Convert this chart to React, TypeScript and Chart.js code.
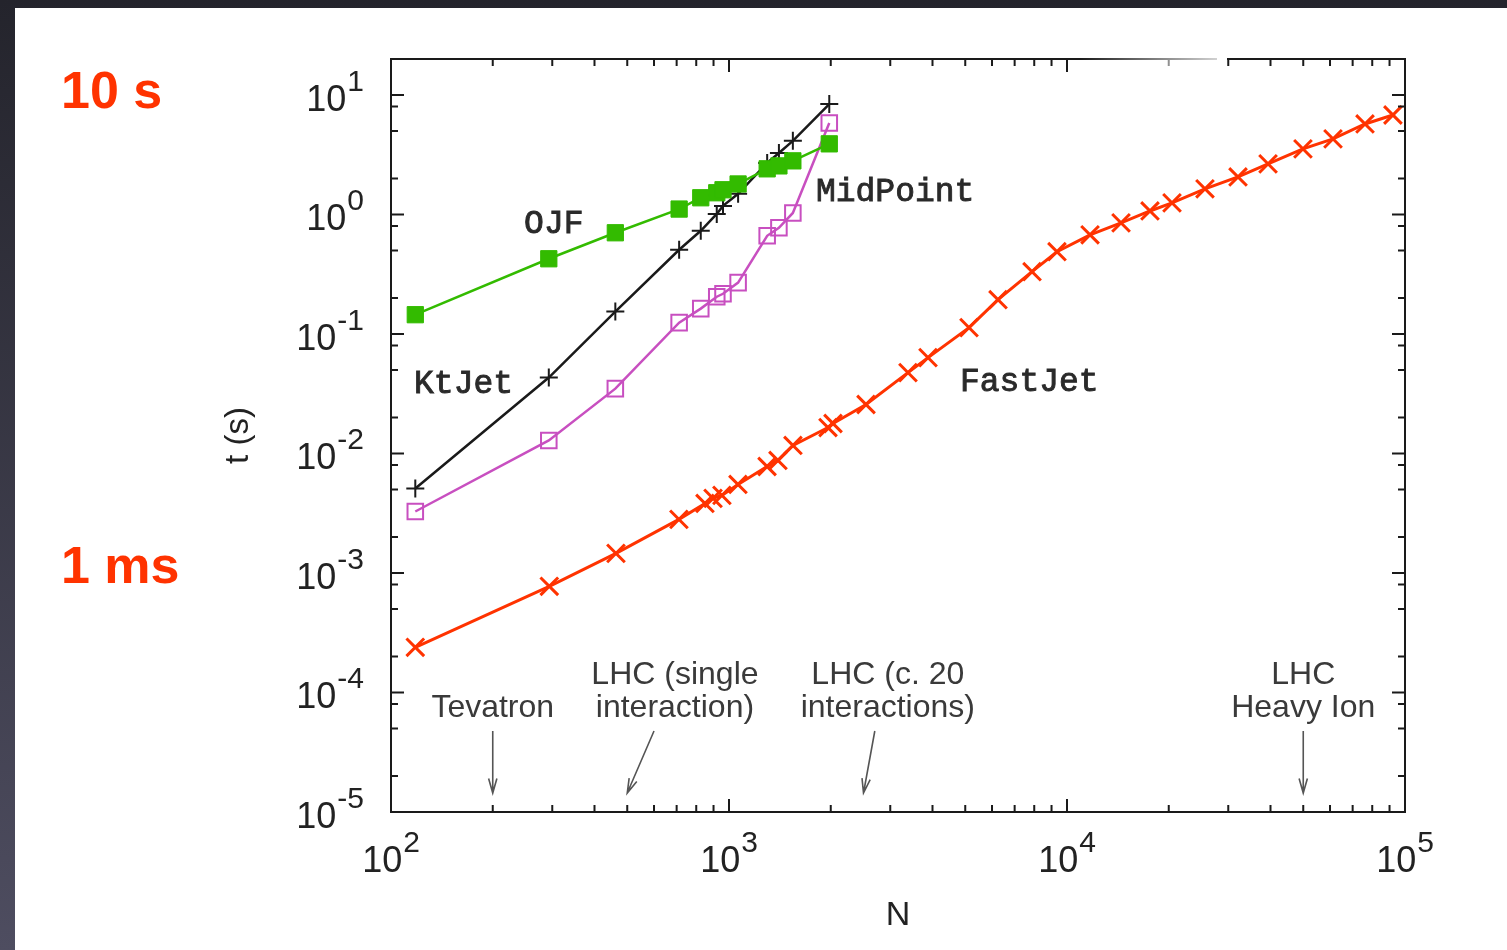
import React, { useEffect, useRef } from "react";
import { Chart, registerables } from "chart.js";

Chart.register(...registerables);

// ---------------- data ----------------
const seriesN = [118, 293, 461, 712, 825, 920, 960, 1064, 1297, 1405, 1545, 1980];
const ojfTimes = [0.145, 0.426, 0.703, 1.11, 1.38, 1.52, 1.61, 1.8, 2.41, 2.55, 2.81, 3.9];
const ktjetTimes = [0.0051, 0.0432, 0.154, 0.507, 0.731, 1.01, 1.18, 1.49, 2.7, 3.27, 4.13, 8.4];
const midpointTimes = [0.00327, 0.01285, 0.0349, 0.1245, 0.163, 0.205, 0.217, 0.269, 0.663, 0.774, 1.03, 5.83];

const fastjetN = [
  118, 294, 463, 711, 849, 897, 953, 1063, 1296, 1396, 1546, 1963, 2031, 2543, 3385, 3880,
  5130, 6250, 7880, 9340, 11700, 14450, 17600, 20450, 25600, 32060, 39340, 49900, 61240, 76150, 92100,
];
const fastjetTimes = [
  2.39e-4, 7.74e-4, 1.46e-3, 2.81e-3, 3.82e-3, 4.21e-3, 4.46e-3, 5.51e-3, 7.78e-3, 8.75e-3,
  0.01167, 0.01649, 0.01782, 0.0257, 0.0475, 0.0634, 0.113, 0.1936, 0.332, 0.488, 0.676, 0.851,
  1.07, 1.25, 1.64, 2.06, 2.65, 3.54, 4.29, 5.72, 6.8,
];

const xTickExps = [2, 3, 4, 5];
const yTickExps = [1, 0, -1, -2, -3, -4, -5];
const xMinorMult = [2, 3, 4, 5, 6, 7, 8, 9];
const yMinorMult = [2, 5, 8];

// series name labels (anchor N, t = left/baseline)
const seriesLabels = [
  { text: "OJF", n: 251, t: 0.703 },
  { text: "KtJet", n: 118.6, t: 0.0318 },
  { text: "MidPoint", n: 1833, t: 1.3 },
  { text: "FastJet", n: 4890, t: 0.0336 },
];

// experiment annotations
const annotLines = [["Tevatron"], ["LHC (single", "interaction)"], ["LHC (c. 20", "interactions)"], ["LHC", "Heavy Ion"]];
const annotCenterN = [200, 692, 2950, 50000];
const arrowFromN = [200, 600, 2700, 50000];
const arrowToN = [200, 500, 2500, 50000];

const toPts = (xs: number[], ys: number[]) => xs.map((x, i) => ({ x, y: ys[i] }));

const SANS = '"Liberation Sans", Arial, Helvetica, sans-serif';
const MONO = '"Liberation Mono", "Courier New", monospace';

function drawPow(ctx: CanvasRenderingContext2D, exp: string, x: number, baseline: number, align: "right" | "center") {
  ctx.font = `36px ${SANS}`;
  const wb = ctx.measureText("10").width;
  ctx.font = `30px ${SANS}`;
  const we = ctx.measureText(exp).width;
  const total = wb + 1 + we;
  const left = align === "right" ? x - total : x - total / 2;
  ctx.textAlign = "left";
  ctx.textBaseline = "alphabetic";
  ctx.font = `36px ${SANS}`;
  ctx.fillText("10", left, baseline);
  ctx.font = `30px ${SANS}`;
  ctx.fillText(exp, left + wb + 1, baseline - 20);
}

const bgPlugin = {
  id: "bg",
  beforeDraw(chart: any) {
    const { ctx, width, height } = chart;
    ctx.save();
    const g = ctx.createLinearGradient(0, 0, 0, height);
    g.addColorStop(0, "#24242c");
    g.addColorStop(1, "#4e4d60");
    ctx.fillStyle = g;
    ctx.fillRect(0, 0, width, height);
    ctx.fillStyle = "#ffffff";
    ctx.fillRect(15, 8, width - 15, height - 8);
    ctx.restore();
  },
};

const overlayPlugin = {
  id: "overlay",
  afterDraw(chart: any) {
    const { ctx, chartArea: a } = chart;
    const xs = chart.scales.x;
    const ys = chart.scales.y;
    ctx.save();

    // frame
    ctx.strokeStyle = "#1a1a1a";
    ctx.lineWidth = 2;
    ctx.strokeRect(a.left, a.top, a.right - a.left, a.bottom - a.top);

    // ticks
    const majorLen = 13;
    const minorLen = 7;
    ctx.lineWidth = 2;
    ctx.beginPath();
    xTickExps.forEach((e) => {
      const base = Math.pow(10, e);
      const px = xs.getPixelForValue(base);
      ctx.moveTo(px, a.bottom); ctx.lineTo(px, a.bottom - majorLen);
      ctx.moveTo(px, a.top); ctx.lineTo(px, a.top + majorLen);
      if (e < 5) {
        xMinorMult.forEach((m) => {
          const p = xs.getPixelForValue(base * m);
          ctx.moveTo(p, a.bottom); ctx.lineTo(p, a.bottom - minorLen);
          ctx.moveTo(p, a.top); ctx.lineTo(p, a.top + minorLen);
        });
      }
    });
    yTickExps.forEach((e) => {
      const base = Math.pow(10, e);
      const py = ys.getPixelForValue(base);
      ctx.moveTo(a.left, py); ctx.lineTo(a.left + majorLen, py);
      ctx.moveTo(a.right, py); ctx.lineTo(a.right - majorLen, py);
      yMinorMult.forEach((m) => {
        const v = base * m;
        if (v > ys.max) return;
        const p = ys.getPixelForValue(v);
        ctx.moveTo(a.left, p); ctx.lineTo(a.left + minorLen, p);
        ctx.moveTo(a.right, p); ctx.lineTo(a.right - minorLen, p);
      });
    });
    ctx.stroke();

    // faded top border artifact
    const fg = ctx.createLinearGradient(1080, 0, 1217, 0);
    fg.addColorStop(0, "rgba(255,255,255,0)");
    fg.addColorStop(1, "rgba(255,255,255,0.8)");
    ctx.fillStyle = fg;
    ctx.fillRect(1080, a.top - 3, 137, 12);
    ctx.fillStyle = "#ffffff";
    ctx.fillRect(1217, a.top - 3, 10, 6);

    // tick labels
    ctx.fillStyle = "#222222";
    yTickExps.forEach((e) => {
      const py = ys.getPixelForValue(Math.pow(10, e));
      drawPow(ctx, String(e), a.left - 27, py + 16, "right");
    });
    xTickExps.forEach((e) => {
      const px = xs.getPixelForValue(Math.pow(10, e));
      drawPow(ctx, String(e), px, a.bottom + 60, "center");
    });

    // axis titles
    ctx.font = `34px ${SANS}`;
    ctx.textAlign = "center";
    ctx.textBaseline = "alphabetic";
    ctx.fillText("N", (a.left + a.right) / 2, a.bottom + 113);
    ctx.save();
    ctx.translate(248, (a.top + a.bottom) / 2);
    ctx.rotate(-Math.PI / 2);
    ctx.font = `33px ${SANS}`;
    ctx.fillText("t (s)", 0, 0);
    ctx.restore();

    // series labels
    ctx.fillStyle = "#2a2a2a";
    ctx.strokeStyle = "#2a2a2a";
    ctx.lineWidth = 0.9;
    ctx.font = `33px ${MONO}`;
    ctx.textAlign = "left";
    seriesLabels.forEach((l) => {
      const px = xs.getPixelForValue(l.n) - 2;
      const py = ys.getPixelForValue(l.t);
      ctx.fillText(l.text, px, py);
      ctx.strokeText(l.text, px, py);
    });

    // annotations
    ctx.fillStyle = "#3a3a3a";
    ctx.font = `32px ${SANS}`;
    ctx.textAlign = "center";
    annotLines.forEach((lines, i) => {
      const cx = xs.getPixelForValue(annotCenterN[i]);
      const lastBase = a.bottom - 95;
      lines.forEach((t, j) => {
        const b = lastBase - (lines.length - 1 - j) * 33;
        ctx.fillText(t, cx, b);
      });
    });

    // arrows
    ctx.strokeStyle = "#555555";
    ctx.lineWidth = 1.6;
    arrowFromN.forEach((fromN, i) => {
      const x1 = xs.getPixelForValue(fromN);
      const y1 = a.bottom - 81;
      const x2 = xs.getPixelForValue(arrowToN[i]);
      const y2 = a.bottom - 19;
      const ang = Math.atan2(y2 - y1, x2 - x1);
      ctx.beginPath();
      ctx.moveTo(x1, y1);
      ctx.lineTo(x2, y2);
      const L = 15, W = 0.28;
      ctx.moveTo(x2 - L * Math.cos(ang - W), y2 - L * Math.sin(ang - W));
      ctx.lineTo(x2, y2);
      ctx.lineTo(x2 - L * Math.cos(ang + W), y2 - L * Math.sin(ang + W));
      ctx.stroke();
    });

    // red side labels
    ctx.fillStyle = "#ff3300";
    ctx.font = `bold 52px ${SANS}`;
    ctx.textAlign = "left";
    ctx.fillText("10 s", 61, 108);
    ctx.fillText("1 ms", 61, 583);

    ctx.restore();
  },
};

export default function App() {
  const ref = useRef<HTMLCanvasElement | null>(null);

  useEffect(() => {
    if (!ref.current) return;
    const chart = new Chart(ref.current, {
      type: "scatter",
      data: {
        datasets: [
          {
            label: "OJF",
            data: toPts(seriesN, ojfTimes),
            showLine: true,
            borderColor: "#33bb00",
            backgroundColor: "#33bb00",
            borderWidth: 2.5,
            pointStyle: "rect",
            pointRadius: 11.5,
            pointBorderWidth: 1,
            pointBorderColor: "#33bb00",
            pointBackgroundColor: "#33bb00",
          },
          {
            label: "MidPoint",
            data: toPts(seriesN, midpointTimes),
            showLine: true,
            borderColor: "#c84fc0",
            backgroundColor: "rgba(0,0,0,0)",
            borderWidth: 2.5,
            pointStyle: "rect",
            pointRadius: 11,
            pointBorderWidth: 2,
            pointBorderColor: "#c84fc0",
            pointBackgroundColor: "rgba(0,0,0,0)",
          },
          {
            label: "KtJet",
            data: toPts(seriesN, ktjetTimes),
            showLine: true,
            borderColor: "#1a1a1a",
            backgroundColor: "#1a1a1a",
            borderWidth: 2.5,
            pointStyle: "cross",
            pointRadius: 9,
            pointBorderWidth: 2,
            pointBorderColor: "#1a1a1a",
          },
          {
            label: "FastJet",
            data: toPts(fastjetN, fastjetTimes),
            showLine: true,
            borderColor: "#ff3300",
            backgroundColor: "#ff3300",
            borderWidth: 3,
            pointStyle: "crossRot",
            pointRadius: 12.5,
            pointBorderWidth: 3,
            pointBorderColor: "#ff3300",
          },
        ],
      },
      options: {
        animation: false,
        responsive: false,
        maintainAspectRatio: false,
        layout: { padding: { left: 391, right: 102, top: 59, bottom: 138 } },
        plugins: { legend: { display: false }, tooltip: { enabled: false } },
        scales: {
          x: {
            type: "logarithmic",
            min: 100,
            max: 100000,
            ticks: { display: false },
            grid: { display: false, drawTicks: false },
            border: { display: false },
          },
          y: {
            type: "logarithmic",
            min: 1e-5,
            max: 20,
            ticks: { display: false },
            grid: { display: false, drawTicks: false },
            border: { display: false },
          },
        },
      },
      plugins: [bgPlugin, overlayPlugin],
    });
    return () => chart.destroy();
  }, []);

  return (
    <div style={{ position: "fixed", left: 0, top: 0, width: 1507, height: 950 }}>
      <canvas ref={ref} width={1507} height={950} style={{ width: 1507, height: 950, display: "block" }} />
    </div>
  );
}
